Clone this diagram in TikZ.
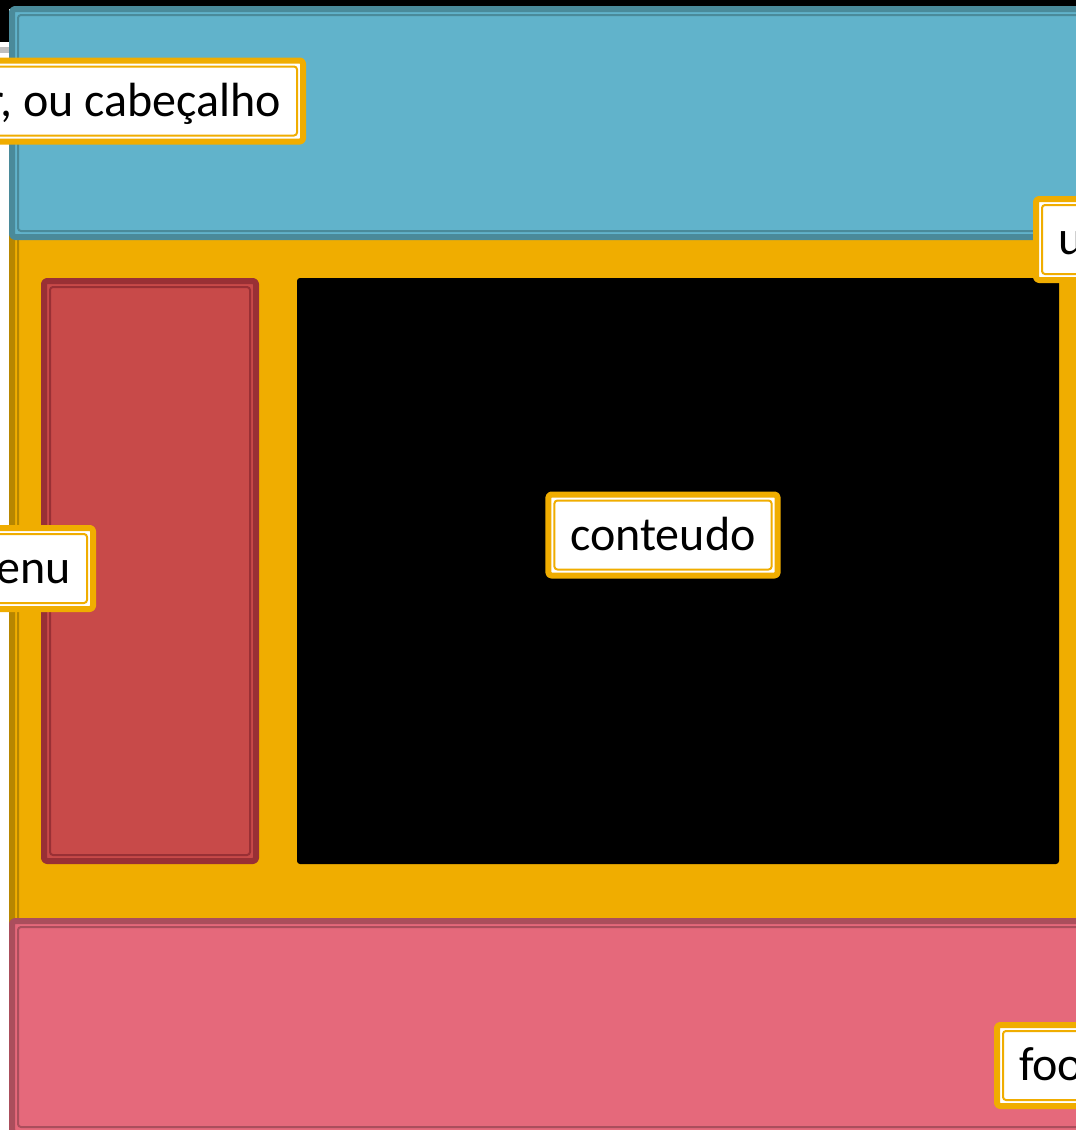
\documentclass[tikz,border=0pt]{standalone}
\usepackage{fontspec}
\setmainfont{Carlito}
\usetikzlibrary{positioning}
\definecolor{azul}{HTML}{61B3CB}
\definecolor{azulescuro}{HTML}{4A8A9A}
\definecolor{amarelo}{HTML}{F0AD00}
\definecolor{amareloescuro}{HTML}{B78600}
\definecolor{vermelho}{HTML}{C84A49}
\definecolor{vermelhoescuro}{HTML}{993035}
\definecolor{rosa}{HTML}{E5697B}
\definecolor{rosaescuro}{HTML}{AA4E5C}
\tikzstyle{every picture}+=[x=1pt,y=-1pt]
\tikzstyle{every picture}+=[join=round]
\tikzset{filete/.style={path picture={\draw[#1,line width=2pt]
  ([xshift=6pt,yshift=-6pt]path picture bounding box.north west) rectangle
  ([xshift=-6pt,yshift=6pt]path picture bounding box.south east);}}}
\tikzstyle{bloco}=[line width=6pt,rounded corners=3pt,inner sep=0pt,outer sep=0pt,anchor=north west]
\tikzstyle{rotulo}=[fill=white,draw=amarelo,line width=6pt,rounded corners=3pt,
  minimum height=81pt,inner xsep=22pt,text height=36pt,text depth=6pt,
  font=\fontsize{48}{56}\selectfont,filete=amarelo]

\begin{document}
\begin{tikzpicture}
\useasboundingbox (0,0) rectangle (1076,1130);
\clip (0,0) rectangle (1076,1130);

% fundo
\fill[white] (0,0) rectangle (1076,1130);
\fill[black] (0,0) rectangle (1076,9);
\fill[black] (0,0) rectangle (9,42);
\fill[black!25] (0,47) rectangle (9,53);

% blocos da pagina
\node[bloco,draw=amareloescuro,fill=amarelo,filete=amareloescuro,
  minimum width=1100pt,minimum height=727pt] (corpo) at (12,203) {};
\node[bloco,draw=azulescuro,fill=azul,filete=azulescuro,
  minimum width=1100pt,minimum height=228pt] (header) at (12,9) {};
\node[bloco,draw=rosaescuro,fill=rosa,filete=rosaescuro,
  minimum width=1100pt,minimum height=212pt] (footer) at (12,921) {};
\node[bloco,draw=vermelhoescuro,fill=vermelho,filete=vermelhoescuro,
  minimum width=212pt,minimum height=580pt] (menu) at (44,281) {};
\node[bloco,line width=0pt,fill=black,
  minimum width=762pt,minimum height=586pt] (conteudo) at (297,278) {};

% rotulos
\node[rotulo,anchor=east] (rotheader) at (306,101) {header, ou cabeçalho};
\node[rotulo,anchor=west] (rotcorpo) at (1033,239.5) {u};
\node[rotulo,anchor=east] (rotmenu) at (96,568.5) {menu};
\node[rotulo] (rotconteudo) at (663,535) {conteudo};
\node[rotulo,anchor=west] (rotfooter) at (994,1065.5) {footer};
\end{tikzpicture}
\end{document}
